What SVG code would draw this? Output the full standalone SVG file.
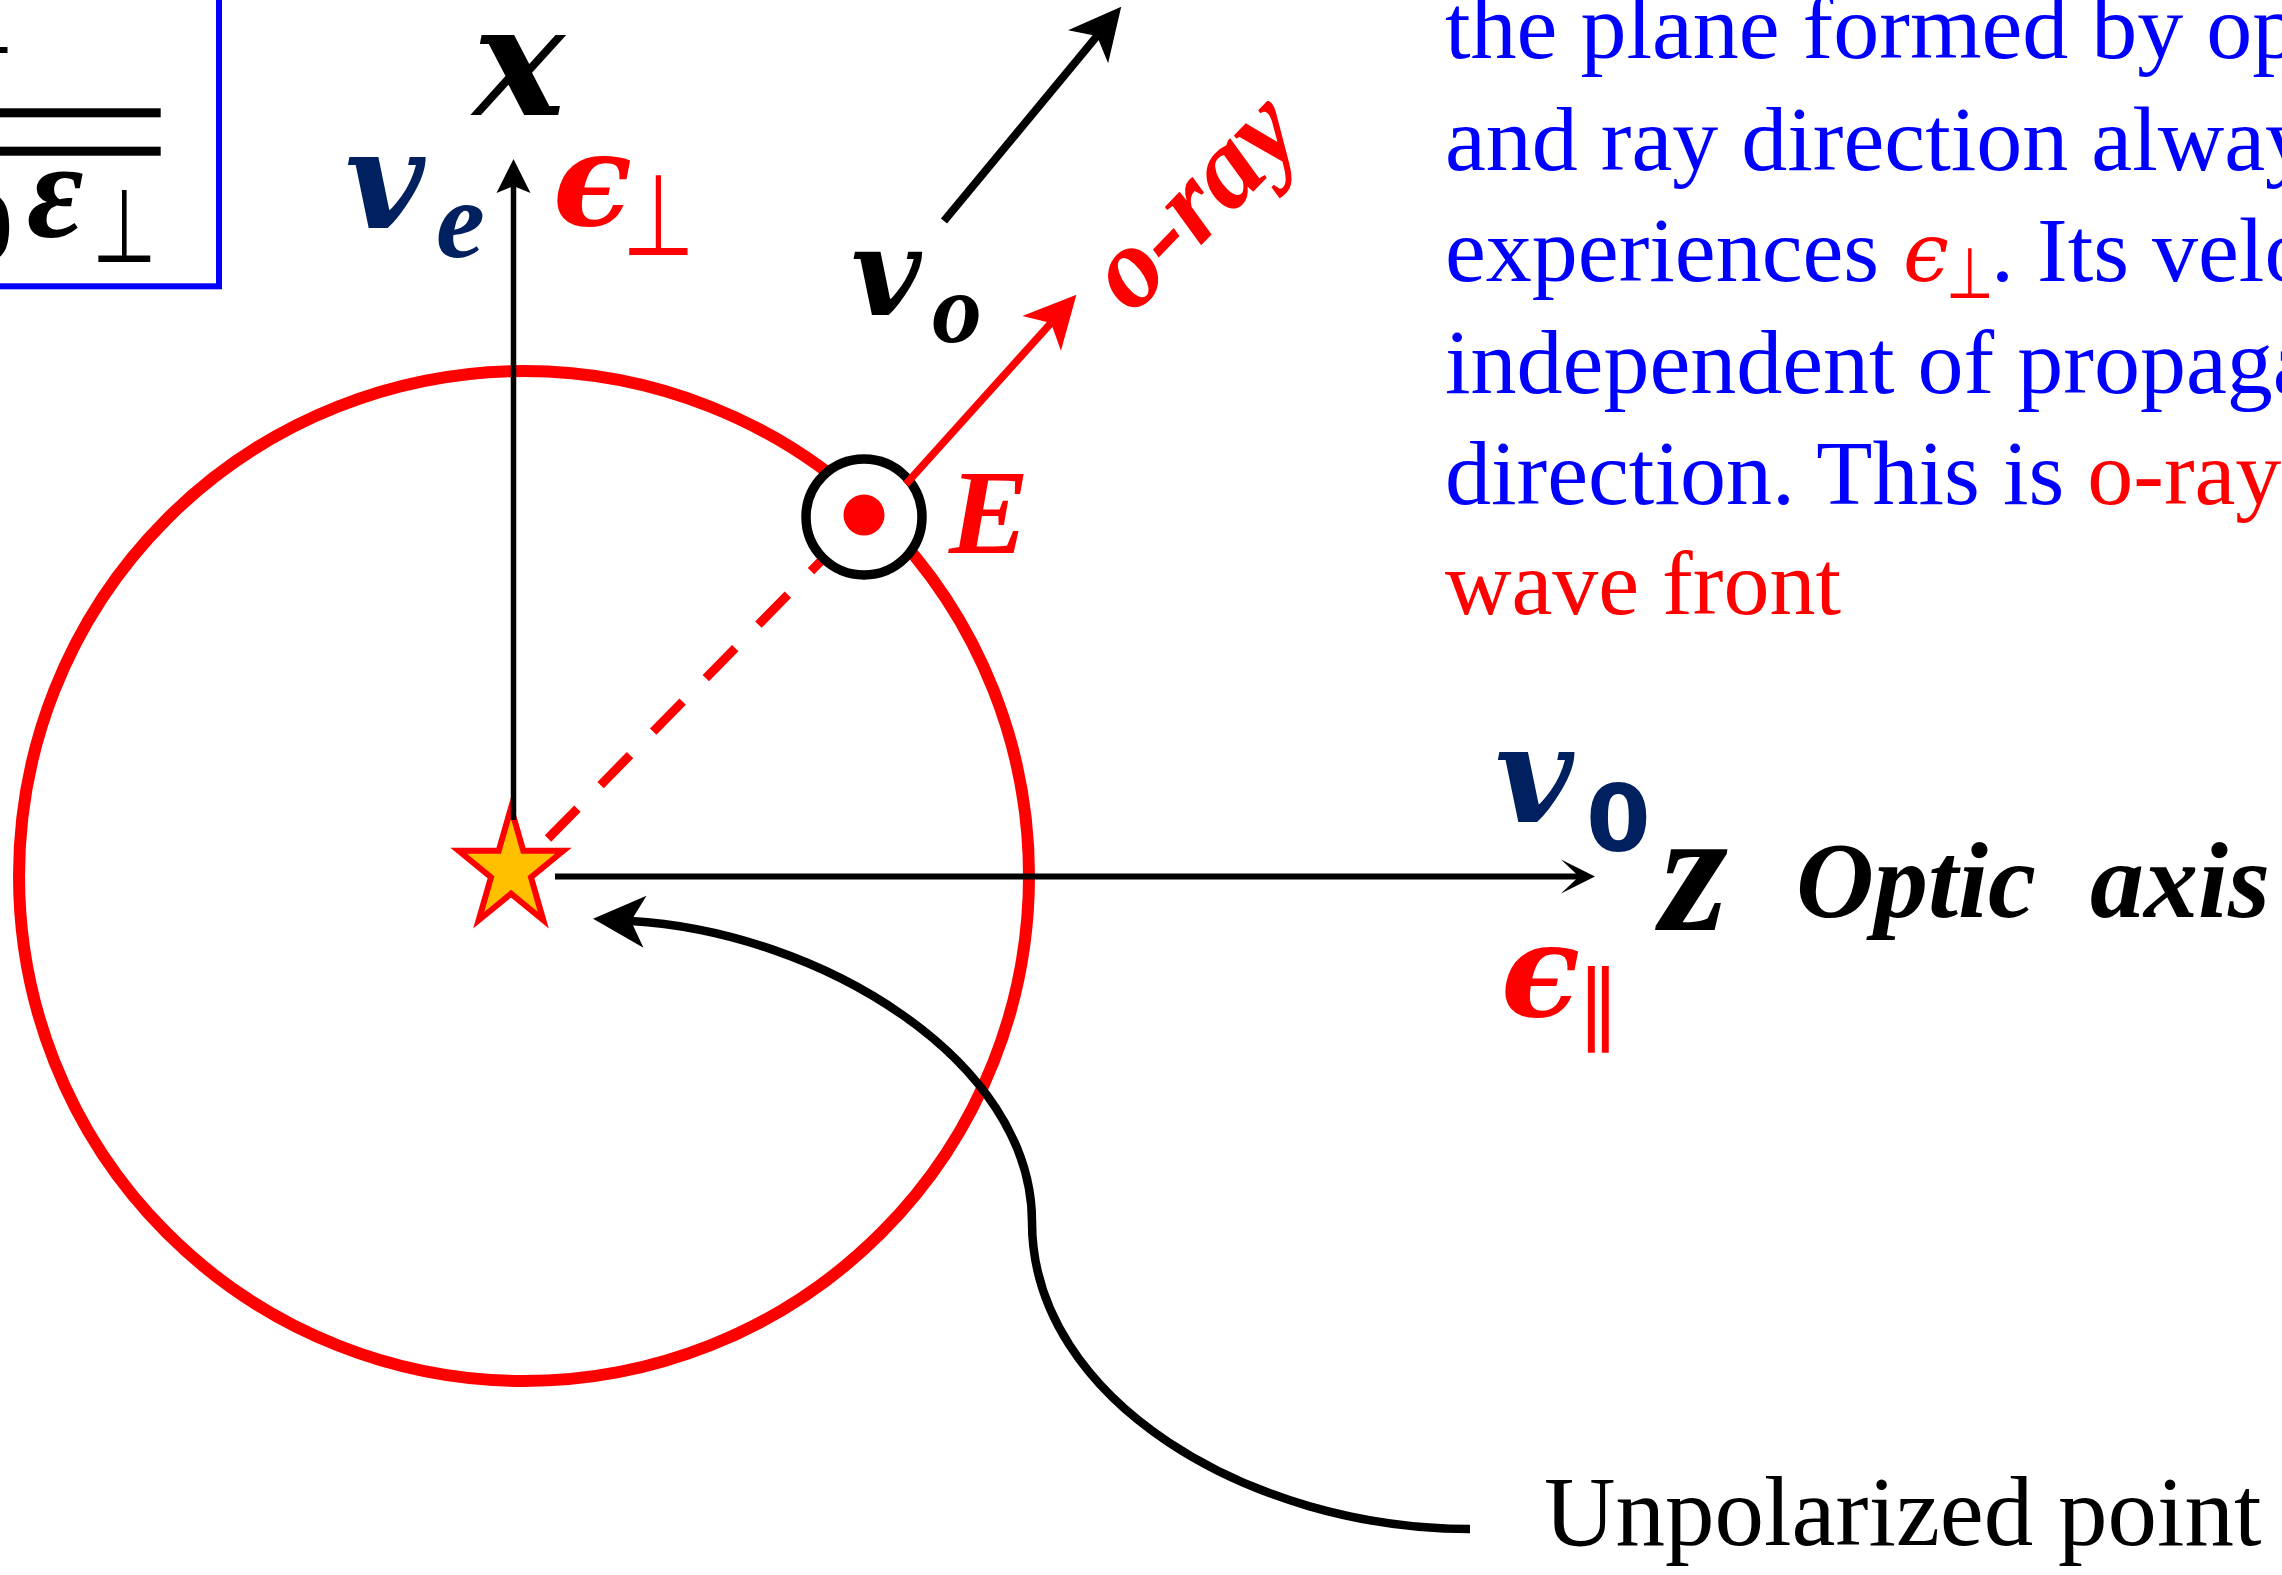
<svg xmlns="http://www.w3.org/2000/svg" width="2282" height="1575" viewBox="0 0 2282 1575">
<style>
.mi{font-family:"Liberation Serif","Times New Roman",serif;font-weight:bold;font-style:italic}
.mv{font-family:"DejaVu Serif",serif;font-weight:bold;font-style:italic}
.eps{font-family:"DejaVu Serif",serif;font-weight:bold;font-style:italic}
.sym{font-family:"DejaVu Sans",sans-serif}
.para{font-family:"Liberation Serif","Times New Roman",serif;font-size:92px;fill:#0000FF}
.red{fill:#FF0000}
.navy{fill:#002060}
.blk{fill:#000000}
</style>
<defs>
<marker id="axHeadV" markerUnits="userSpaceOnUse" markerWidth="34" markerHeight="34" refX="7" refY="17" orient="auto" overflow="visible">
<path d="M34 17 L0 0 L7 17 L0 34 Z" fill="#000"/>
</marker>
<marker id="axHeadH" markerUnits="userSpaceOnUse" markerWidth="34" markerHeight="34" refX="18" refY="17" orient="auto" overflow="visible">
<path d="M34 17 L0 0 L18 17 L0 34 Z" fill="#000"/>
</marker>
<marker id="bigBlack" markerUnits="userSpaceOnUse" markerWidth="52" markerHeight="52" refX="14" refY="26" orient="auto" overflow="visible">
<path d="M52 26 L0 0 L14 26 L0 52 Z" fill="#000"/>
</marker>
<marker id="bigRed" markerUnits="userSpaceOnUse" markerWidth="52" markerHeight="52" refX="14" refY="26" orient="auto" overflow="visible">
<path d="M52 26 L0 0 L14 26 L0 52 Z" fill="#FF0000"/>
</marker>
</defs>
<rect width="2282" height="1575" fill="#fff"/>

<g id="formula-box">
<rect x="-10" y="-10" width="229" height="296.3" fill="none" stroke="#0000FF" stroke-width="6"/>
<rect x="0" y="47" width="7.5" height="6" fill="#000"/>
<rect x="0" y="108.3" width="160.7" height="9" fill="#000"/>
<rect x="0" y="146.7" width="160.7" height="9" fill="#000"/>
<text x="13" y="259" text-anchor="end" font-family="Liberation Serif, serif" font-weight="bold" font-size="100" class="blk">0</text>
<text x="27" y="237" font-size="138" class="mi blk">ε</text>
<text transform="translate(92,262) scale(0.72,1)" font-size="103" class="sym blk">⊥</text>
</g>

<g id="wavefront">
<circle cx="524" cy="876" r="505" fill="none" stroke="#FF0000" stroke-width="12"/>
</g>

<g id="source-star">
<polygon points="511,808 523.3,850.8 563.3,850.8 531,877.3 543.3,920.2 511,893.7 478.7,920.2 491,877.3 458.7,850.8 498.7,850.8" fill="#FFC000" stroke="#FF0000" stroke-width="6"/>
</g>

<g id="connectors">
<line x1="513.5" y1="820" x2="513.5" y2="186" stroke="#000" stroke-width="5.5" marker-end="url(#axHeadV)"/>
<line x1="555" y1="876.5" x2="1579" y2="876.5" stroke="#000" stroke-width="6" marker-end="url(#axHeadH)"/>
<line x1="548" y1="838.5" x2="822" y2="560" stroke="#FF0000" stroke-width="9" stroke-dasharray="42 33"/>
<line x1="944" y1="221" x2="1097" y2="36" stroke="#000" stroke-width="8" marker-end="url(#bigBlack)"/>
<path d="M1470 1529 C1250 1529 1032 1400 1032 1222 C1032 1060 820 932 631 921" fill="none" stroke="#000" stroke-width="8.5" marker-end="url(#bigBlack)"/>
</g>

<g id="e-field-marker">
<circle cx="864" cy="517" r="58" fill="#fff" stroke="#000" stroke-width="9.5"/>
<circle cx="864" cy="515" r="20.5" fill="#FF0000"/>
</g>

<g id="o-ray-arrow">
<line x1="906" y1="484" x2="1051" y2="323" stroke="#FF0000" stroke-width="7.5" marker-end="url(#bigRed)"/>
</g>

<g id="labels">
<text x="519" y="115" text-anchor="middle" font-size="154" class="mv blk">x</text>
<text x="345" y="228" font-size="137" class="mv navy">v</text>
<text x="436" y="257" font-size="110" class="mi navy">e</text>
<text x="553" y="225" font-size="130" class="eps red">ϵ</text>
<text transform="translate(622,255) scale(0.73,1)" font-size="114" class="sym red">⊥</text>
<text x="851" y="315" font-size="121" class="mv blk">v</text>
<text x="932" y="342" font-size="100" class="mi blk">o</text>
<text transform="translate(1133,316) rotate(-46)" font-size="115" class="mi red">o-ray</text>
<text x="949" y="553" font-size="120" class="mi red">E</text>
<text x="1495" y="822" font-size="135" class="mv navy">v</text>
<text x="1586" y="851" font-size="93" font-family="DejaVu Sans, sans-serif" font-weight="bold" class="navy">0</text>
<text x="1660" y="930" font-size="175" class="mi blk">z</text>
<text x="1796" y="917" font-size="108" class="mi blk">Optic&#160; axis</text>
<text x="1501" y="1016" font-size="130" class="eps red">ϵ</text>
<text x="1576" y="1034" font-size="88" class="sym red">∥</text>
</g>

<g id="description">
<text x="1445" y="58" class="para">the plane formed by op</text>
<text x="1445" y="170" class="para">and ray direction alway</text>
<text class="para" y="281"><tspan x="1445">experiences </tspan><tspan x="1903" font-family="DejaVu Serif, serif" font-style="italic" font-size="82" class="red">ϵ</tspan><tspan x="1991" y="281">. Its velo</tspan></text>
<text transform="translate(1946,298) scale(0.77,1)" font-size="71" class="sym red">⊥</text>
<text x="1445" y="393" class="para">independent of propaga</text>
<text class="para" y="504"><tspan x="1445">direction. This is </tspan><tspan class="red">o-ray</tspan></text>
<text x="1445" y="614" class="para red">wave front</text>
</g>

<g id="source-label">
<text x="1544" y="1545" font-family="Liberation Serif, serif" font-size="99" class="blk">Unpolarized point</text>
</g>
</svg>
